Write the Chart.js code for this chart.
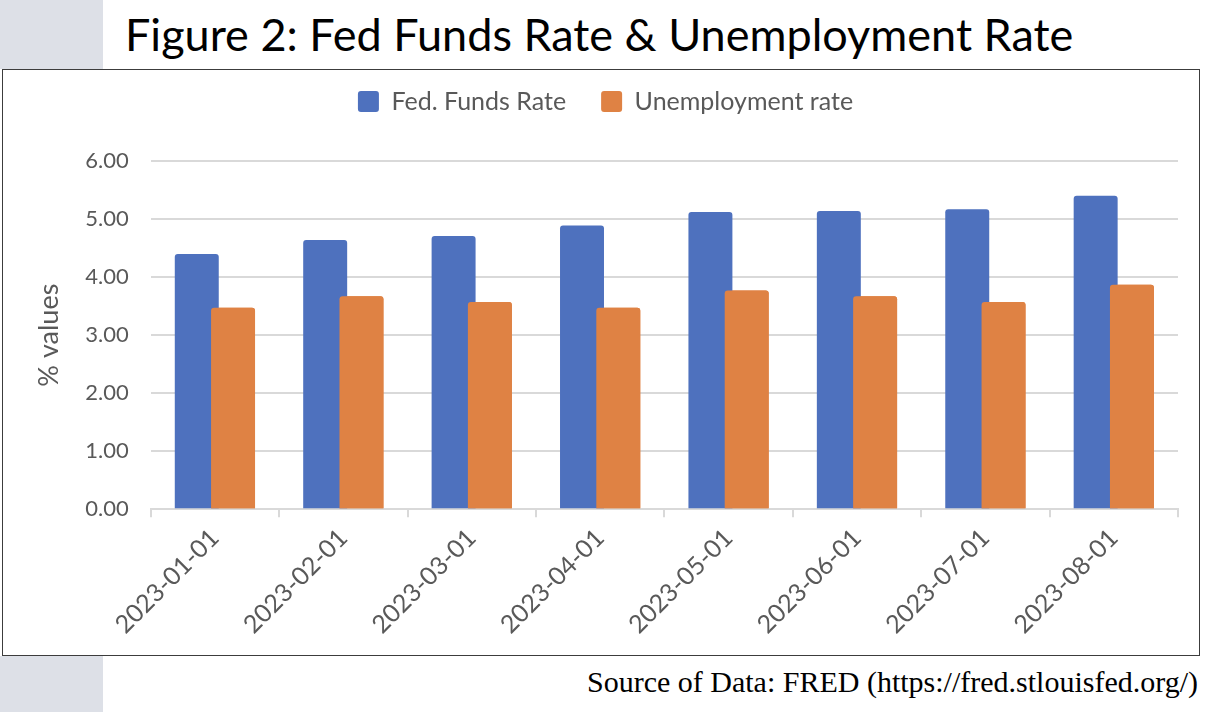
<!DOCTYPE html>
<html>
<head>
<meta charset="utf-8">
<script src="https://cdn.jsdelivr.net/npm/chart.js@4.4.1/dist/chart.umd.min.js"></script>
<style>
  html, body { margin: 0; padding: 0; background: #ffffff; }
  body { width: 1210px; height: 712px; position: relative; overflow: hidden; }
  .strip { position: absolute; left: 0; width: 103px; background: #dde0e7; }
  #title { position: absolute; left: 125px; top: 4px; font-family: Lato, sans-serif; font-size: 45px; color: #000; white-space: nowrap; line-height: 60px; }
  #box { position: absolute; left: 2px; top: 69px; width: 1196px; height: 585px; border: 1px solid #3c3c3c; background: #fff; }
  #source { position: absolute; right: 12px; top: 663px; font-family: "Liberation Serif", serif; font-size: 30px; color: #000; white-space: nowrap; line-height: 38px; }
</style>
</head>
<body>
<div class="strip" style="top:0;height:69px;"></div>
<div class="strip" style="top:656px;height:56px;"></div>
<div id="title">Figure 2: Fed Funds Rate &amp; Unemployment Rate</div>
<div id="box"><canvas id="c" width="1196" height="585"></canvas></div>
<div id="source">Source of Data: FRED (https://fred.stlouisfed.org/)</div>
<script>
const categories = ['2023-01-01', '2023-02-01', '2023-03-01', '2023-04-01', '2023-05-01', '2023-06-01', '2023-07-01', '2023-08-01'];
const fedFundsRate = [4.40, 4.64, 4.71, 4.89, 5.12, 5.14, 5.17, 5.40];
const unemploymentRate = [3.47, 3.67, 3.57, 3.47, 3.77, 3.67, 3.57, 3.87];
const yTickValues = [0, 1, 2, 3, 4, 5, 6];

const FONT = 'Lato';
const TEXT = '#595959';
const GRID = '#d9d9d9';

const orangeOnTop = {
  id: 'orangeOnTop',
  afterDatasetsDraw(chart) {
    const meta = chart.getDatasetMeta(1);
    if (meta && !meta.hidden) meta.controller.draw();
  }
};

new Chart(document.getElementById('c'), {
  type: 'bar',
  data: {
    labels: categories,
    datasets: [
      { label: 'Fed. Funds Rate', data: fedFundsRate, backgroundColor: '#4e71be', borderRadius: { topLeft: 3, topRight: 3 }, borderSkipped: 'start' },
      { label: 'Unemployment rate', data: unemploymentRate, backgroundColor: '#df8244', borderRadius: { topLeft: 3, topRight: 3 }, borderSkipped: 'start' }
    ]
  },
  options: {
    responsive: false,
    animation: false,
    devicePixelRatio: 1,
    categoryPercentage: 0.565,
    barPercentage: 1.212,
    layout: { padding: { left: 30, right: 21, top: -16, bottom: 0 } },
    plugins: {
      legend: {
        position: 'top',
        align: 'center',
        weight: 1000,
        labels: {
          color: TEXT,
          font: { family: FONT, size: 25 },
          boxWidth: 21,
          boxHeight: 21,
          useBorderRadius: true,
          borderRadius: 3,
          padding: 35
        }
      },
      title: {
        display: true,
        text: ' ',
        weight: 500,
        font: { size: 10, lineHeight: 1.2 },
        padding: { top: 0, bottom: 25 }
      },
      tooltip: { enabled: false }
    },
    scales: {
      x: {
        offset: true,
        grid: { offset: true, drawOnChartArea: false, drawTicks: true, tickLength: 8, color: GRID, lineWidth: 2 },
        border: { display: true, color: GRID, width: 2 },
        ticks: { color: TEXT, font: { family: FONT, size: 25 }, minRotation: 45, maxRotation: 45, padding: 6 },
        afterFit(scale) { scale.height = 145.7; }
      },
      y: {
        min: 0,
        max: 6,
        afterBuildTicks(scale) { scale.ticks = yTickValues.map(v => ({ value: v })); },
        grid: { color: GRID, lineWidth: 2, drawTicks: false },
        border: { display: false },
        ticks: { color: TEXT, font: { family: FONT, size: 22 }, padding: 22, callback: v => Number(v).toFixed(2) },
        title: { display: true, text: '% values', color: TEXT, font: { family: FONT, size: 27 }, padding: { top: 0, bottom: 0 } },
        afterFit(scale) { scale.width = 117.7; }
      }
    }
  },
  plugins: [orangeOnTop]
});
</script>
</body>
</html>
